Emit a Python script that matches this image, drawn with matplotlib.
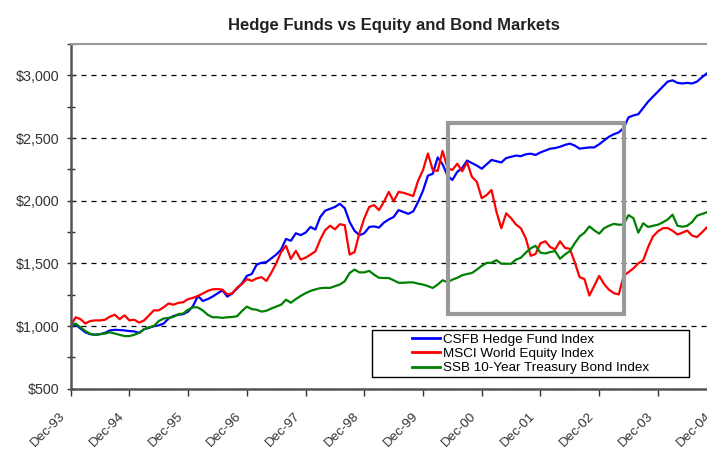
import numpy as np
import matplotlib.pyplot as plt
import matplotlib.transforms as mtransforms
from matplotlib.patches import Rectangle
from matplotlib.ticker import FuncFormatter, MultipleLocator

plt.rcParams['font.family'] = ['Liberation Sans', 'DejaVu Sans']

# monthly index levels, Dec-93 = 1000 (month 0) to Dec-04 (month 132)
csfb = [
    1000, 1010, 980, 950, 935, 930, 935, 945, 965, 970, 968, 965,
    960, 957, 945, 975, 985, 1000, 1005, 1020, 1060, 1080, 1090, 1095,
    1115, 1160, 1240, 1200, 1215, 1235, 1260, 1285, 1235, 1260, 1300, 1340,
    1400, 1415, 1490, 1505, 1510, 1540, 1570, 1610, 1695, 1680, 1740, 1725,
    1745, 1790, 1770, 1870, 1920, 1935, 1950, 1975, 1940, 1830, 1760, 1725,
    1740, 1790, 1795, 1785, 1825, 1850, 1870, 1925, 1910, 1895, 1915, 1990,
    2080, 2200, 2215, 2345, 2290, 2200, 2165, 2230, 2260, 2320, 2300, 2280,
    2255, 2290, 2325, 2315, 2305, 2340, 2350, 2360, 2355, 2370, 2375, 2365,
    2385, 2400, 2415, 2420, 2430, 2445, 2455, 2440, 2415, 2420, 2425, 2425,
    2450, 2480, 2510, 2530, 2545, 2580, 2665, 2680, 2690, 2740, 2790, 2830,
    2870, 2910, 2950, 2960, 2940, 2935, 2940, 2935, 2950, 2985, 3015, 3035,
    3050,
]
msci = [
    1000, 1070, 1055, 1020, 1040, 1045, 1045, 1050, 1075, 1090, 1055, 1085,
    1045, 1050, 1027, 1045, 1085, 1125, 1125, 1150, 1180, 1170, 1185, 1190,
    1215, 1225, 1240, 1260, 1280, 1293, 1295, 1290, 1253, 1260, 1305, 1335,
    1375, 1360, 1380, 1390, 1360, 1425, 1500, 1590, 1640, 1535, 1600, 1530,
    1545, 1570, 1595, 1690, 1765, 1800, 1772, 1812, 1805, 1570, 1590, 1740,
    1860, 1950, 1965, 1925, 1990, 2070, 1995, 2070, 2063, 2050, 2037, 2160,
    2245, 2376, 2243, 2238, 2397, 2260, 2245, 2295, 2235, 2305, 2190, 2150,
    2020, 2045, 2085, 1913, 1780, 1899, 1860, 1810, 1780, 1700, 1560, 1575,
    1660, 1676, 1630, 1611, 1676, 1624, 1616, 1510, 1390, 1374, 1243, 1321,
    1400, 1335, 1290, 1262, 1252, 1400, 1430, 1460, 1500, 1525, 1630, 1715,
    1755, 1780, 1782, 1760, 1730, 1745, 1761, 1721, 1710, 1747, 1787, 1800,
    1810,
]
ssb = [
    1000, 1020, 990, 960, 938, 930, 935, 940, 950, 940, 930, 920,
    920, 930, 946, 975, 990, 1000, 1040, 1060, 1065, 1073, 1095, 1100,
    1130, 1150, 1148, 1124, 1090, 1070, 1070, 1065, 1070, 1072, 1078, 1120,
    1155, 1135, 1130, 1115, 1122, 1140, 1155, 1170, 1210, 1186, 1215, 1240,
    1262, 1280, 1292, 1302, 1305, 1304, 1318, 1331, 1357, 1423, 1450, 1428,
    1428, 1440, 1410, 1385, 1383, 1383, 1365, 1345, 1345, 1348, 1348, 1338,
    1331, 1318, 1304, 1331, 1365, 1350, 1370, 1385, 1405, 1415, 1423, 1450,
    1480, 1503, 1505, 1525, 1497, 1497, 1497, 1530, 1545, 1585, 1620, 1640,
    1585, 1579, 1590, 1598, 1537, 1570, 1598, 1660, 1715, 1745, 1795, 1763,
    1737, 1780, 1800, 1815, 1808, 1810, 1885, 1860, 1745, 1820, 1790, 1800,
    1808, 1827, 1850, 1888, 1800, 1792, 1800, 1830, 1880, 1894, 1907, 1915,
    1920,
]
months = np.arange(len(csfb))
tick_months = np.arange(0, 133, 12)
tick_labels = ['Dec-93', 'Dec-94', 'Dec-95', 'Dec-96', 'Dec-97', 'Dec-98',
               'Dec-99', 'Dec-00', 'Dec-01', 'Dec-02', 'Dec-03', 'Dec-04']
series_names = ['CSFB Hedge Fund Index', 'MSCI World Equity Index',
                'SSB 10-Year Treasury Bond Index']

# highlighted period (months, index level)
box_x0, box_x1 = 77.1, 113.1
box_y0, box_y1 = 1098, 2620

fig = plt.figure(figsize=(7.07, 4.49), dpi=100)
ax = fig.add_axes([0.1, 0.1343, 0.9136, 0.7677])

ax.plot(months, csfb, color='#0000ff', lw=1.6, label=series_names[0])
ax.plot(months, msci, color='#ff0000', lw=1.6, label=series_names[1])
ax.plot(months, ssb, color='#008000', lw=1.6, label=series_names[2])

ax.add_patch(Rectangle((box_x0, box_y0), box_x1 - box_x0, box_y1 - box_y0,
                       fill=False, edgecolor='#999999', lw=3, zorder=5))

ax.set_xlim(0, 132)
ax.set_ylim(500, 3250)
ax.set_xticks(tick_months)
ax.set_xticklabels([])
# rotated date labels, set down and left of each tick like the original
lab_tr = mtransforms.offset_copy(ax.get_xaxis_transform(), fig=fig,
                                 x=-7, y=-26, units='dots')
for m, lab in zip(tick_months, tick_labels):
    ax.text(m, 0, lab, transform=lab_tr, rotation=45, ha='right', va='center',
            rotation_mode='anchor', fontsize=9.6, color='#333333',
            clip_on=False)

ax.yaxis.set_major_locator(MultipleLocator(500))
ax.yaxis.set_minor_locator(MultipleLocator(250))
ax.yaxis.set_major_formatter(FuncFormatter(lambda v, p: f'${v:,.0f}'))
for lab in ax.get_yticklabels():
    lab.set_fontsize(10.3)
    lab.set_color('#333333')
ax.tick_params(axis='y', which='both', direction='inout', length=6,
               width=1, color='#333333', pad=5)
ax.tick_params(axis='x', direction='out', length=5, width=1,
               color='#333333')

ax.grid(axis='y', which='major', color='black', linestyle=(0, (4, 4)), lw=0.9)
ax.spines['left'].set_color('#555555')
ax.spines['left'].set_linewidth(1.8)
ax.spines['bottom'].set_color('#555555')
ax.spines['bottom'].set_linewidth(1.8)
ax.spines['top'].set_color('#999999')
ax.spines['top'].set_linewidth(1.5)
ax.spines['right'].set_visible(False)

ax.set_title('Hedge Funds vs Equity and Bond Markets', fontsize=12,
             fontweight='bold', pad=10, color='#222222')

leg = ax.legend(loc='upper left', bbox_to_anchor=(0.528, 0.161), fontsize=9.7,
                frameon=False, handlelength=2.1, handletextpad=0.25,
                labelspacing=0.14, borderpad=0, borderaxespad=0)
for line in leg.get_lines():
    line.set_linewidth(2)
ax.add_patch(Rectangle((0.466, 0.033), 0.492, 0.137, transform=ax.transAxes,
                       fill=True, facecolor='white', edgecolor='black',
                       lw=1, zorder=4))
leg.set_zorder(6)

fig.savefig('out.png', dpi=100)
